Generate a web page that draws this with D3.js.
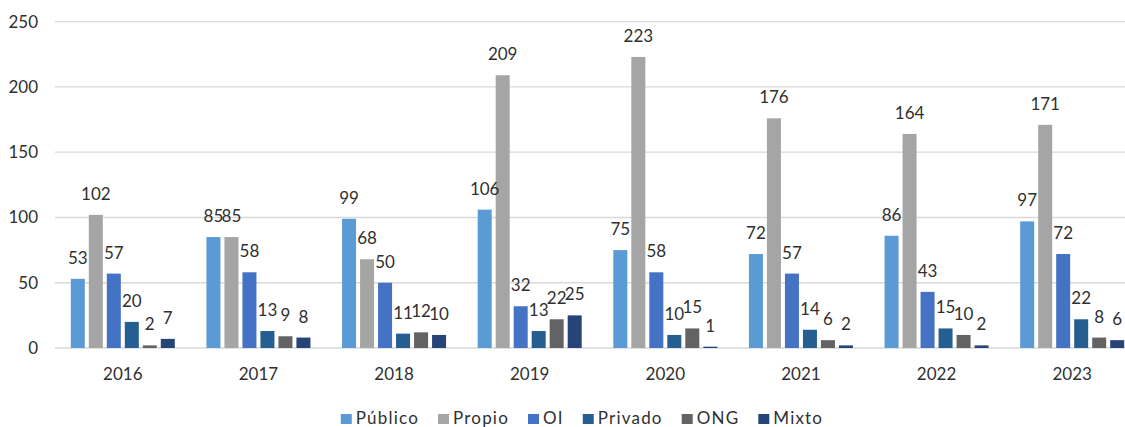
<!DOCTYPE html>
<html>
<head>
<meta charset="utf-8">
<script src="https://cdn.jsdelivr.net/npm/d3@7"></script>
<style>
  body { margin: 0; background: #fff; }
  svg { display: block; font-family: Lato, "Noto Sans", sans-serif; }
</style>
</head>
<body>
<div id="chart"></div>
<script>
// Data
const years = ["2016", "2017", "2018", "2019", "2020", "2021", "2022", "2023"];
const seriesNames = ["Público", "Propio", "OI", "Privado", "ONG", "Mixto"];
const publico = [53, 85, 99, 106, 75, 72, 86, 97];
const propio = [102, 85, 68, 209, 223, 176, 164, 171];
const oi = [57, 58, 50, 32, 58, 57, 43, 72];
const privado = [20, 13, 11, 13, 10, 14, 15, 22];
const ong = [2, 9, 12, 22, 15, 6, 10, 8];
const mixto = [7, 8, 10, 25, 1, 2, 2, 6];
const yTicks = [0, 50, 100, 150, 200, 250];
const colors = ["#5B9BD5", "#A5A5A5", "#4472C4", "#255E91", "#636363", "#264478"];

const seriesValues = [publico, propio, oi, privado, ong, mixto];
const rows = [];
years.forEach((yr, i) => {
  seriesNames.forEach((s, j) => {
    rows.push({ year: yr, series: s, value: seriesValues[j][i] });
  });
});

// Dimensions
const W = 1125, H = 427;
const plotLeft = 55, plotRight = 1140, plotTop = 21.7, plotBottom = 348;
const textColor = "#303030";

const svg = d3.select("#chart").append("svg")
  .attr("width", W).attr("height", H)
  .attr("viewBox", [0, 0, W, H]);

// Scales
const x0 = d3.scaleBand().domain(years).range([plotLeft, plotRight]).padding(0);
const groupW = 104;
const x1 = d3.scaleBand().domain(seriesNames).range([0, groupW]).paddingInner(0.222).paddingOuter(0);
const y = d3.scaleLinear().domain([0, 250]).range([plotBottom, plotTop]);
const color = d3.scaleOrdinal().domain(seriesNames).range(colors);
const groupOffset = (x0.bandwidth() - groupW) / 2;

// Gridlines
svg.append("g")
  .selectAll("line")
  .data(yTicks)
  .join("line")
  .attr("x1", plotLeft).attr("x2", plotRight)
  .attr("y1", d => y(d)).attr("y2", d => y(d))
  .attr("stroke", "#D9D9D9")
  .attr("stroke-width", 1.3);

// Y axis labels
svg.append("g")
  .selectAll("text")
  .data(yTicks)
  .join("text")
  .attr("x", 38)
  .attr("y", d => y(d))
  .attr("dy", "0.35em")
  .attr("text-anchor", "end")
  .attr("fill", textColor)
  .style("font-size", "17px")
  .text(d => d);

// Bars
const bx = d => x0(d.year) + groupOffset + x1(d.series);
svg.append("g")
  .selectAll("rect")
  .data(rows)
  .join("rect")
  .attr("x", bx)
  .attr("y", d => y(d.value))
  .attr("width", x1.bandwidth())
  .attr("height", d => y(0) - y(d.value))
  .attr("fill", d => color(d.series));

// Value labels
svg.append("g")
  .selectAll("text")
  .data(rows)
  .join("text")
  .attr("x", d => bx(d) + x1.bandwidth() / 2)
  .attr("y", d => y(d.value) - 15)
  .attr("text-anchor", "middle")
  .attr("fill", textColor)
  .style("font-size", "17px")
  .text(d => d.value);

// X axis labels
svg.append("g")
  .selectAll("text")
  .data(years)
  .join("text")
  .attr("x", d => x0(d) + x0.bandwidth() / 2)
  .attr("y", 380)
  .attr("text-anchor", "middle")
  .attr("fill", textColor)
  .style("font-size", "17px")
  .text(d => d);

// Legend
const legend = svg.append("g");
const items = legend.selectAll("g")
  .data(seriesNames)
  .join("g");
items.append("rect")
  .attr("width", 11).attr("height", 10)
  .attr("y", 414)
  .attr("fill", d => color(d));
items.append("text")
  .attr("x", 15)
  .attr("y", 424)
  .attr("fill", textColor)
  .style("font-size", "17px")
  .style("letter-spacing", "1.2px")
  .text(d => d);

let cursor = 0;
const offsets = [];
items.each(function () {
  const w = this.querySelector("text").getBBox().width;
  offsets.push(cursor);
  cursor += 15 + w + 19;
});
const totalW = cursor - 19;
const legendStart = 582 - totalW / 2;
items.attr("transform", (d, i) => `translate(${legendStart + offsets[i]},0)`);
</script>
</body>
</html>
